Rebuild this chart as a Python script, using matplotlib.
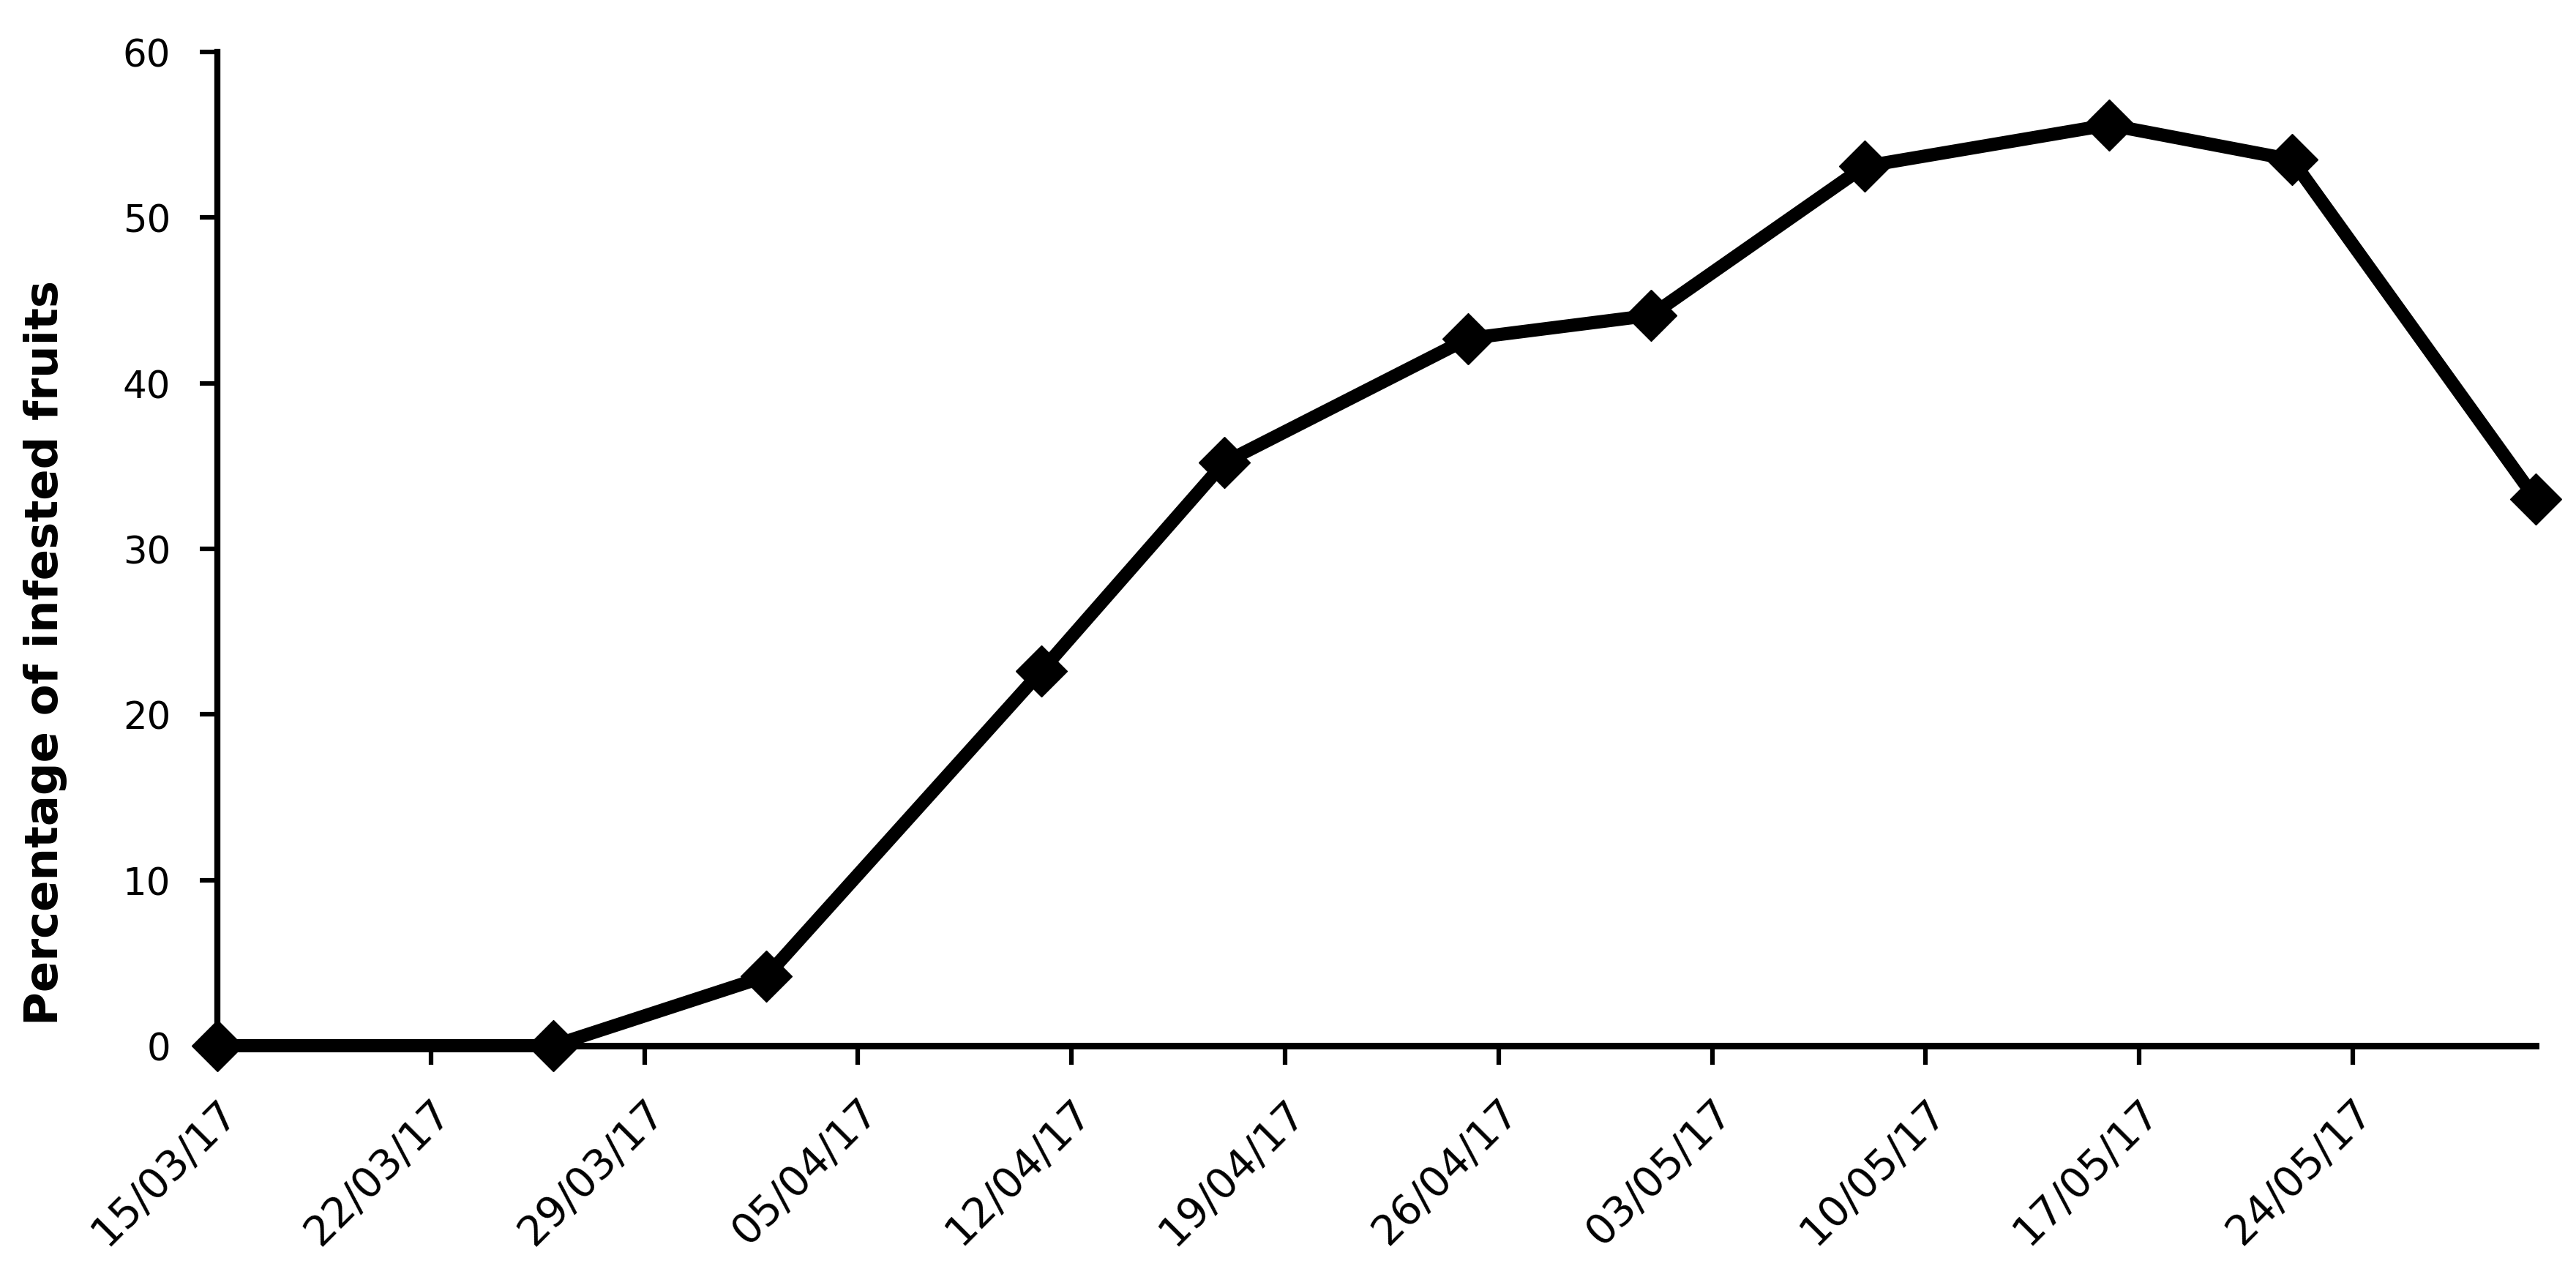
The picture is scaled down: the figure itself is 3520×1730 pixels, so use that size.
import datetime as dt
import matplotlib
matplotlib.use("Agg")
import matplotlib.pyplot as plt

# sampling dates and % infested fruits
dates = ["15/03/17", "26/03/17", "02/04/17", "11/04/17", "17/04/17", "25/04/17",
         "01/05/17", "08/05/17", "16/05/17", "22/05/17", "30/05/17"]
infested = [0.0, 0.0, 4.2, 22.6, 35.2, 42.7, 44.1, 53.1, 55.6, 53.5, 33.0]

tick_dates = ["15/03/17", "22/03/17", "29/03/17", "05/04/17", "12/04/17", "19/04/17",
              "26/04/17", "03/05/17", "10/05/17", "17/05/17", "24/05/17"]
y_ticks = [0, 10, 20, 30, 40, 50, 60]


def main():
    x = [dt.datetime.strptime(d, "%d/%m/%y") for d in dates]
    xt = [dt.datetime.strptime(d, "%d/%m/%y") for d in tick_dates]

    fig = plt.figure(figsize=(35.2, 17.31), dpi=100)
    ax = fig.add_axes([0.0844, 0.1739, 0.900, 0.7845])

    ax.plot(x, infested, color="black", lw=13, marker="D", ms=36,
            clip_on=False, zorder=5)

    ax.set_xlim(x[0], x[-1])
    ax.set_ylim(0, 60)
    ax.set_yticks(y_ticks)
    ax.set_xticks(xt)
    ax.set_xticklabels(tick_dates, rotation=45, ha="right", rotation_mode="anchor",
                       fontsize=41)
    ax.tick_params(axis="y", labelsize=37, length=17, width=4.5, pad=29)
    ax.tick_params(axis="x", length=19, width=4.5, pad=26)

    for s in ["top", "right"]:
        ax.spines[s].set_visible(False)
    ax.spines["left"].set_linewidth(6)
    ax.spines["bottom"].set_linewidth(6.5)

    ax.set_ylabel("Percentage of infested fruits", fontsize=45, fontweight="bold")
    ax.yaxis.set_label_coords(0.026, 0.485, transform=fig.transFigure)

    fig.savefig("out.png", dpi=100)


if __name__ == "__main__":
    main()
